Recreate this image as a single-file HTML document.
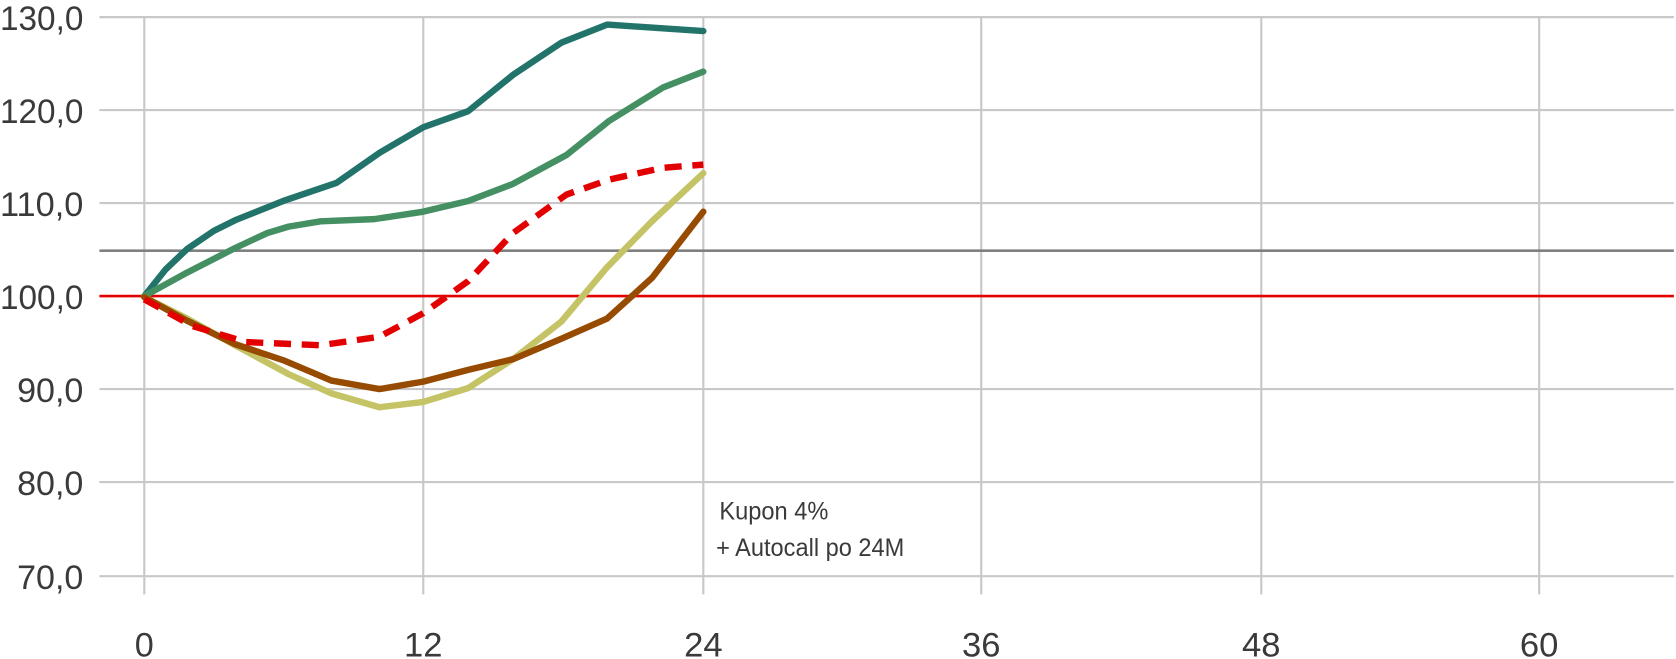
<!DOCTYPE html>
<html><head><meta charset="utf-8"><style>
html,body{margin:0;padding:0;background:#fff;}
svg{display:block;}
text{font-family:"Liberation Sans Narrow","Liberation Sans",sans-serif;fill:#3a3a3a;}
</style></head><body>
<svg width="1676" height="659" viewBox="0 0 1568 616.5" xmlns="http://www.w3.org/2000/svg">
<g stroke="#c8c8c8" stroke-width="2">
<line x1="93" y1="16" x2="1566" y2="16"/>
<line x1="93" y1="103" x2="1566" y2="103"/>
<line x1="93" y1="190" x2="1566" y2="190"/>
<line x1="93" y1="364" x2="1566" y2="364"/>
<line x1="93" y1="451" x2="1566" y2="451"/>
<line x1="93" y1="539" x2="1566" y2="539"/>
<line x1="135" y1="16" x2="135" y2="556"/>
<line x1="396" y1="16" x2="396" y2="556"/>
<line x1="658" y1="16" x2="658" y2="556"/>
<line x1="918" y1="16" x2="918" y2="556"/>
<line x1="1180" y1="16" x2="1180" y2="556"/>
<line x1="1440" y1="16" x2="1440" y2="556"/>
</g>
<line x1="93" y1="234.5" x2="1566" y2="234.5" stroke="#808080" stroke-width="2.5"/>
<line x1="93" y1="277" x2="1566" y2="277" stroke="#e30000" stroke-width="2.5"/>
<g font-size="32" text-anchor="end">
<text x="78" y="28" textLength="78" lengthAdjust="spacingAndGlyphs">130,0</text>
<text x="78" y="115" textLength="78" lengthAdjust="spacingAndGlyphs">120,0</text>
<text x="78" y="202" textLength="78" lengthAdjust="spacingAndGlyphs">110,0</text>
<text x="78" y="289" textLength="78" lengthAdjust="spacingAndGlyphs">100,0</text>
<text x="78" y="376" textLength="62" lengthAdjust="spacingAndGlyphs">90,0</text>
<text x="78" y="463" textLength="62" lengthAdjust="spacingAndGlyphs">80,0</text>
<text x="78" y="551" textLength="62" lengthAdjust="spacingAndGlyphs">70,0</text>
</g>
<g font-size="32" text-anchor="middle">
<text x="135" y="614">0</text>
<text x="396" y="614" textLength="36" lengthAdjust="spacingAndGlyphs">12</text>
<text x="658" y="614" textLength="36" lengthAdjust="spacingAndGlyphs">24</text>
<text x="918" y="614" textLength="36" lengthAdjust="spacingAndGlyphs">36</text>
<text x="1180" y="614" textLength="36" lengthAdjust="spacingAndGlyphs">48</text>
<text x="1440" y="614" textLength="36" lengthAdjust="spacingAndGlyphs">60</text>
</g>
<text x="673" y="486" font-size="23" textLength="102" lengthAdjust="spacingAndGlyphs">Kupon 4%</text>
<text x="670" y="520" font-size="23" textLength="176" lengthAdjust="spacingAndGlyphs">+ Autocall po 24M</text>
<g fill="none" stroke-width="6" stroke-linejoin="round" stroke-linecap="round">
<polyline stroke="#22736a" points="135,277 155,252 175,233 200,216 220,206 265,188 315,171 355,143 396,119 438,104 480,70 525,40 568,23 658,29"/>
<polyline stroke="#449063" points="135,277 175,255 220,232 250,218 270,212 300,207 350,205 396,198 438,188 480,172 530,145 570,113 620,82 658,67"/>
<polyline stroke="#c4c466" points="135,278 175,298 220,323 270,350 310,368 355,381 396,376 438,363 480,336 525,301 568,250 610,207 658,162"/>
<polyline stroke="#964b00" points="135,278 175,300 220,322 265,337 310,356 355,364 396,357 438,346 480,336 525,317 568,298 610,260 658,198"/>
<polyline stroke="#e30000" stroke-dasharray="16,10" stroke-linecap="butt" points="135,280 180,305 230,320 300,323 355,315 396,293 438,263 480,218 530,182 570,168 620,157 658,154"/>
</g>
</svg>
</body></html>
